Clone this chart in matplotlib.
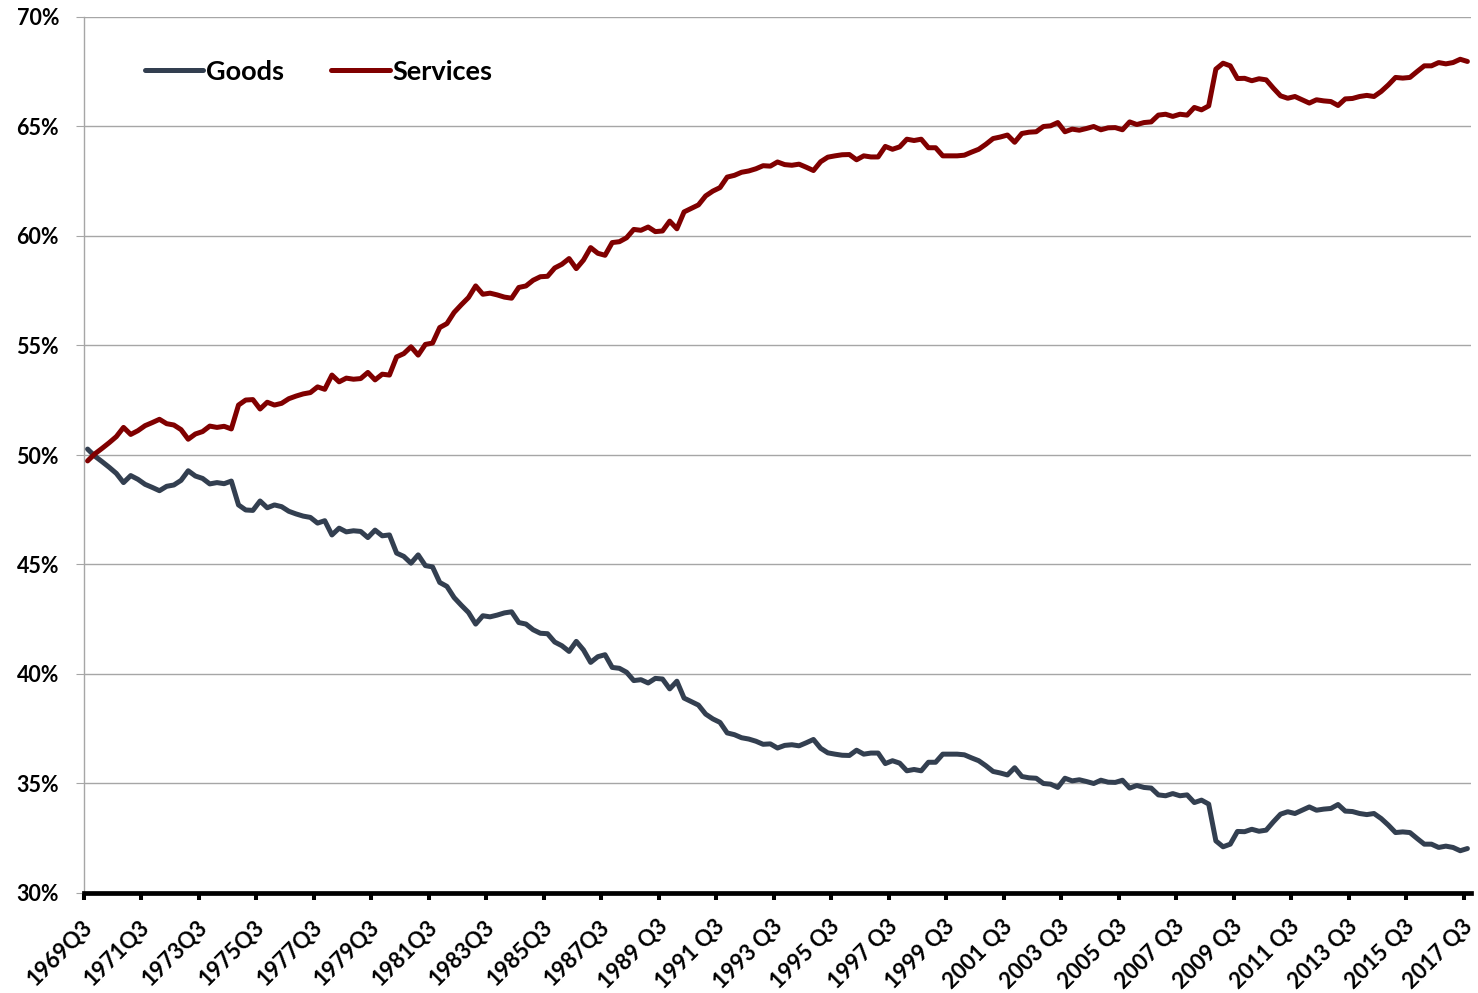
import matplotlib
matplotlib.use("Agg")
import matplotlib.pyplot as plt
from matplotlib.ticker import FuncFormatter, MultipleLocator
from matplotlib.transforms import ScaledTranslation
import numpy as np

# Share of personal consumption expenditures (%), quarterly, 1969Q3 - 2017Q3
tick_labels = [
    "1969Q3", "1971Q3", "1973Q3", "1975Q3", "1977Q3", "1979Q3", "1981Q3",
    "1983Q3", "1985Q3", "1987Q3", "1989 Q3", "1991 Q3", "1993 Q3", "1995 Q3",
    "1997 Q3", "1999 Q3", "2001 Q3", "2003 Q3", "2005 Q3", "2007 Q3",
    "2009 Q3", "2011 Q3", "2013 Q3", "2015 Q3", "2017 Q3",
]

goods = [
    50.27, 49.95, 49.70, 49.44, 49.16, 48.74, 49.06, 48.89, 48.66, 48.52,
    48.37, 48.57, 48.63, 48.84, 49.28, 49.04, 48.93, 48.68, 48.74, 48.69,
    48.81, 47.72, 47.49, 47.47, 47.90, 47.59, 47.72, 47.64, 47.43, 47.31,
    47.21, 47.15, 46.89, 47.00, 46.35, 46.66, 46.49, 46.54, 46.51, 46.23,
    46.57, 46.31, 46.35, 45.52, 45.37, 45.06, 45.44, 44.95, 44.89, 44.18,
    44.00, 43.49, 43.14, 42.81, 42.28, 42.66, 42.61, 42.69, 42.79, 42.84,
    42.35, 42.28, 42.02, 41.86, 41.84, 41.46, 41.29, 41.03, 41.49, 41.10,
    40.53, 40.79, 40.88, 40.30, 40.26, 40.08, 39.70, 39.74, 39.59, 39.80,
    39.77, 39.32, 39.67, 38.90, 38.74, 38.58, 38.17, 37.95, 37.79, 37.31,
    37.23, 37.09, 37.03, 36.93, 36.79, 36.81, 36.62, 36.74, 36.77, 36.72,
    36.86, 37.01, 36.61, 36.40, 36.34, 36.29, 36.28, 36.52, 36.34, 36.39,
    36.39, 35.91, 36.04, 35.93, 35.58, 35.64, 35.58, 35.97, 35.97, 36.34,
    36.34, 36.34, 36.31, 36.17, 36.04, 35.81, 35.55, 35.48, 35.39, 35.72,
    35.32, 35.26, 35.24, 35.00, 34.97, 34.82, 35.24, 35.12, 35.17, 35.09,
    35.00, 35.15, 35.06, 35.05, 35.15, 34.79, 34.91, 34.82, 34.79, 34.48,
    34.44, 34.54, 34.44, 34.48, 34.13, 34.24, 34.06, 32.38, 32.11, 32.23,
    32.81, 32.80, 32.91, 32.82, 32.87, 33.25, 33.60, 33.71, 33.63, 33.78,
    33.93, 33.78, 33.83, 33.86, 34.04, 33.74, 33.72, 33.63, 33.58, 33.63,
    33.40, 33.10, 32.76, 32.79, 32.76, 32.49, 32.23, 32.23, 32.08, 32.14,
    32.08, 31.93, 32.03,
]

services = [
    49.73, 50.05, 50.30, 50.56, 50.84, 51.26, 50.94, 51.11, 51.34, 51.48,
    51.63, 51.43, 51.37, 51.16, 50.72, 50.96, 51.07, 51.32, 51.26, 51.31,
    51.19, 52.28, 52.51, 52.53, 52.10, 52.41, 52.28, 52.36, 52.57, 52.69,
    52.79, 52.85, 53.11, 53.00, 53.65, 53.34, 53.51, 53.46, 53.49, 53.77,
    53.43, 53.69, 53.65, 54.48, 54.63, 54.94, 54.56, 55.05, 55.11, 55.82,
    56.00, 56.51, 56.86, 57.19, 57.72, 57.34, 57.39, 57.31, 57.21, 57.16,
    57.65, 57.72, 57.98, 58.14, 58.16, 58.54, 58.71, 58.97, 58.51, 58.90,
    59.47, 59.21, 59.12, 59.70, 59.74, 59.92, 60.30, 60.26, 60.41, 60.20,
    60.23, 60.68, 60.33, 61.10, 61.26, 61.42, 61.83, 62.05, 62.21, 62.69,
    62.77, 62.91, 62.97, 63.07, 63.21, 63.19, 63.38, 63.26, 63.23, 63.28,
    63.14, 62.99, 63.39, 63.60, 63.66, 63.71, 63.72, 63.48, 63.66, 63.61,
    63.61, 64.09, 63.96, 64.07, 64.42, 64.36, 64.42, 64.03, 64.03, 63.66,
    63.66, 63.66, 63.69, 63.83, 63.96, 64.19, 64.45, 64.52, 64.61, 64.28,
    64.68, 64.74, 64.76, 65.00, 65.03, 65.18, 64.76, 64.88, 64.83, 64.91,
    65.00, 64.85, 64.94, 64.95, 64.85, 65.21, 65.09, 65.18, 65.21, 65.52,
    65.56, 65.46, 65.56, 65.52, 65.87, 65.76, 65.94, 67.62, 67.89, 67.77,
    67.19, 67.20, 67.09, 67.18, 67.13, 66.75, 66.40, 66.29, 66.37, 66.22,
    66.07, 66.22, 66.17, 66.14, 65.96, 66.26, 66.28, 66.37, 66.42, 66.37,
    66.60, 66.90, 67.24, 67.21, 67.24, 67.51, 67.77, 67.77, 67.92, 67.86,
    67.92, 68.07, 67.97,
]

GOODS_COLOR = "#333F50"
SERVICES_COLOR = "#800000"
GRID_COLOR = "#A6A6A6"

plt.rcParams["font.family"] = ["Lato", "DejaVu Sans"]
plt.rcParams["font.weight"] = "bold"

W, H = 1478, 993
fig = plt.figure(figsize=(W / 100, H / 100), dpi=100)
left, right, top, bottom = 84, 1471, 17, 893
ax = fig.add_axes([left / W, 1 - bottom / H, (right - left) / W, (bottom - top) / H])

x = np.arange(len(goods))
line_kw = dict(lw=3.6, solid_joinstyle="round", solid_capstyle="round", zorder=3)
ax.plot(x, goods, color=GOODS_COLOR, label="Goods", **line_kw)
ax.plot(x, services, color=SERVICES_COLOR, label="Services", **line_kw)

ax.set_xlim(-0.5, len(goods) - 0.5)
ax.set_ylim(30, 70)

# y axis: percent labels with light horizontal grid
ax.yaxis.set_major_locator(MultipleLocator(5))
ax.yaxis.set_major_formatter(FuncFormatter(lambda v, p: f"{v:.0f}%"))
ax.grid(axis="y", color=GRID_COLOR, lw=1.0)
ax.set_axisbelow(True)
ax.tick_params(axis="y", direction="out", length=6, width=0.8, color=GRID_COLOR,
               labelsize=15.5, labelcolor="black", pad=12)

# x axis: category boundaries every 8 quarters
tick_pos = np.arange(0, len(goods), 8) - 0.5
ax.set_xticks(tick_pos)
ax.set_xticklabels(tick_labels, rotation=45, ha="right", va="center",
                   rotation_mode="anchor", fontsize=16, fontweight="bold")
ax.tick_params(axis="x", direction="out", length=5, width=2.9, color="black", pad=17)
offset = ScaledTranslation(5 / 100, 0, fig.dpi_scale_trans)
for lab in ax.get_xticklabels():
    lab.set_transform(lab.get_transform() + offset)

for side in ("top", "right"):
    ax.spines[side].set_visible(False)
ax.spines["left"].set_color(GRID_COLOR)
ax.spines["left"].set_linewidth(1.0)
ax.spines["bottom"].set_color("black")
ax.spines["bottom"].set_linewidth(3.4)
ax.spines["bottom"].set_zorder(4)

ax.legend(loc="upper left", bbox_to_anchor=(0.044, 0.951), ncol=2, frameon=False,
          prop={"size": 19.5, "weight": "bold"}, handlelength=2.15, handletextpad=0.1,
          columnspacing=1.75, borderpad=0, borderaxespad=0)

fig.savefig("out.png", dpi=100, facecolor="white")
